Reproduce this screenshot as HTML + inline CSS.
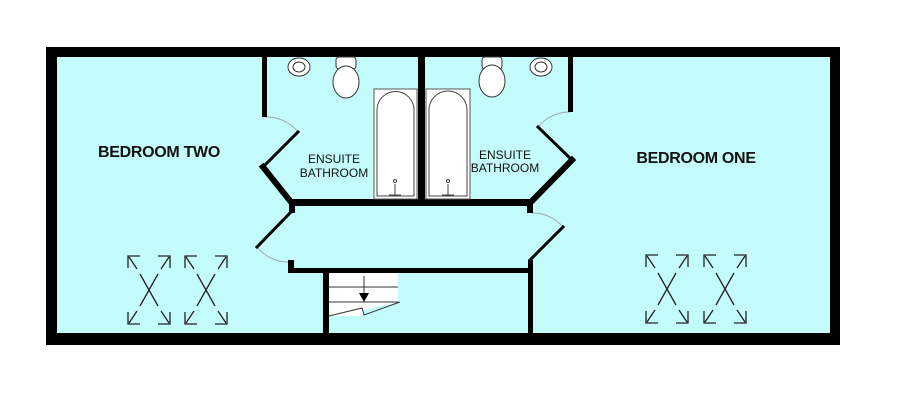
<!DOCTYPE html>
<html><head><style>
html,body{margin:0;padding:0;background:#fff;}
svg{display:block;}
text{font-family:"Liberation Sans",Arial,sans-serif;fill:#111;}
</style></head><body>
<svg width="900" height="403" viewBox="0 0 900 403" xmlns="http://www.w3.org/2000/svg">
<defs>
<g id="sky" fill="none" stroke="#222" stroke-width="1.3">
  <path d="M0 12V0H12 M30 0H42V12 M0 56V68H12 M30 68H42V56"/>
  <path d="M1 1L9 13 M41 1L33 13 M1 67L9 55 M41 67L33 55"/>
  <path d="M12 18L30 50 M30 18L12 50"/>
</g>
</defs>
<rect x="46" y="47" width="794" height="298" fill="#000"/>
<rect x="57" y="57" width="773" height="276" fill="#c4fbfb"/>
<g fill="none" stroke="#9aa" stroke-width="1">
<path d="M265 117 A40 40 0 0 1 298 132"/>
<path d="M570 112 A40 40 0 0 0 538 127"/>
<path d="M257 247 A40 40 0 0 0 290 262"/>
<path d="M532 213 A40 40 0 0 1 563 227"/>
</g>
<g fill="#000">
<rect x="262" y="57" width="5" height="60"/>
<rect x="418" y="57" width="7" height="144"/>
<rect x="568" y="57" width="5" height="55"/>
<rect x="290" y="199" width="243" height="7"/>
<rect x="289" y="199" width="6" height="14"/>
<rect x="527" y="199" width="6" height="14"/>
<rect x="288" y="260" width="6" height="13"/>
<rect x="288" y="268" width="240" height="5"/>
<rect x="528" y="260" width="5" height="85"/>
<rect x="323" y="268" width="6" height="77"/>
</g>
<g stroke="#000" fill="none" stroke-linecap="square">
<path d="M298 132L263 167" stroke-width="3"/>
<path d="M263 167L291 202" stroke-width="6"/>
<path d="M538 127L572 160" stroke-width="3"/>
<path d="M572 160L531 202" stroke-width="6"/>
<path d="M290 213L257 247" stroke-width="3"/>
<path d="M563 227L530 260" stroke-width="3"/>
</g>
<path d="M329 273H398V302L364 310L362 316L329 316Z" fill="#fff"/>
<g stroke="#333" stroke-width="1" fill="none">
<path d="M329 287H398 M329 302H398 M329 316L362 308L364 315L400 302"/>
<path d="M364 276V300"/>
</g>
<path d="M359 293L369 293L364 302Z" fill="#000"/>
<g stroke="#555" fill="#fff" stroke-width="1">
<rect x="374" y="89" width="43" height="110"/>
<rect x="426" y="89" width="44" height="110"/>
<path d="M377 196V110A18 18 0 0 1 414 110V196Z" fill="#fff" stroke="#444"/>
<path d="M429 196V110A18 18 0 0 1 467 110V196Z" fill="#fff" stroke="#444"/>
</g>
<g stroke="#444" fill="none" stroke-width="1">
<circle cx="395" cy="181" r="1.5"/><path d="M395 184V195M389 195H401"/>
<circle cx="448" cy="181" r="1.5"/><path d="M448 184V195M442 195H454"/>
</g>
<g stroke="#333" fill="#fff" stroke-width="1">
<rect x="336" y="57" width="20" height="12" rx="3"/>
<ellipse cx="346" cy="82" rx="13" ry="16"/>
<rect x="482" y="57" width="20" height="12" rx="3"/>
<ellipse cx="492" cy="81" rx="13" ry="16"/>
<ellipse cx="299" cy="67" rx="11" ry="9"/>
<ellipse cx="299" cy="67" rx="6" ry="5"/>
<ellipse cx="541" cy="67" rx="11" ry="9"/>
<ellipse cx="541" cy="67" rx="6" ry="5"/>
</g>
<use href="#sky" x="128" y="256"/>
<use href="#sky" x="185" y="256"/>
<use href="#sky" x="646" y="255"/>
<use href="#sky" x="704" y="255"/>
<text x="159" y="157" font-size="16" font-weight="bold" text-anchor="middle" letter-spacing="-0.3">BEDROOM TWO</text>
<text x="696" y="163" font-size="16" font-weight="bold" text-anchor="middle" letter-spacing="-0.3">BEDROOM ONE</text>
<text x="334" y="163" font-size="12" text-anchor="middle">ENSUITE</text>
<text x="334" y="177" font-size="12" text-anchor="middle">BATHROOM</text>
<text x="505" y="159" font-size="12" text-anchor="middle">ENSUITE</text>
<text x="505" y="172" font-size="12" text-anchor="middle">BATHROOM</text>
</svg>
</body></html>
